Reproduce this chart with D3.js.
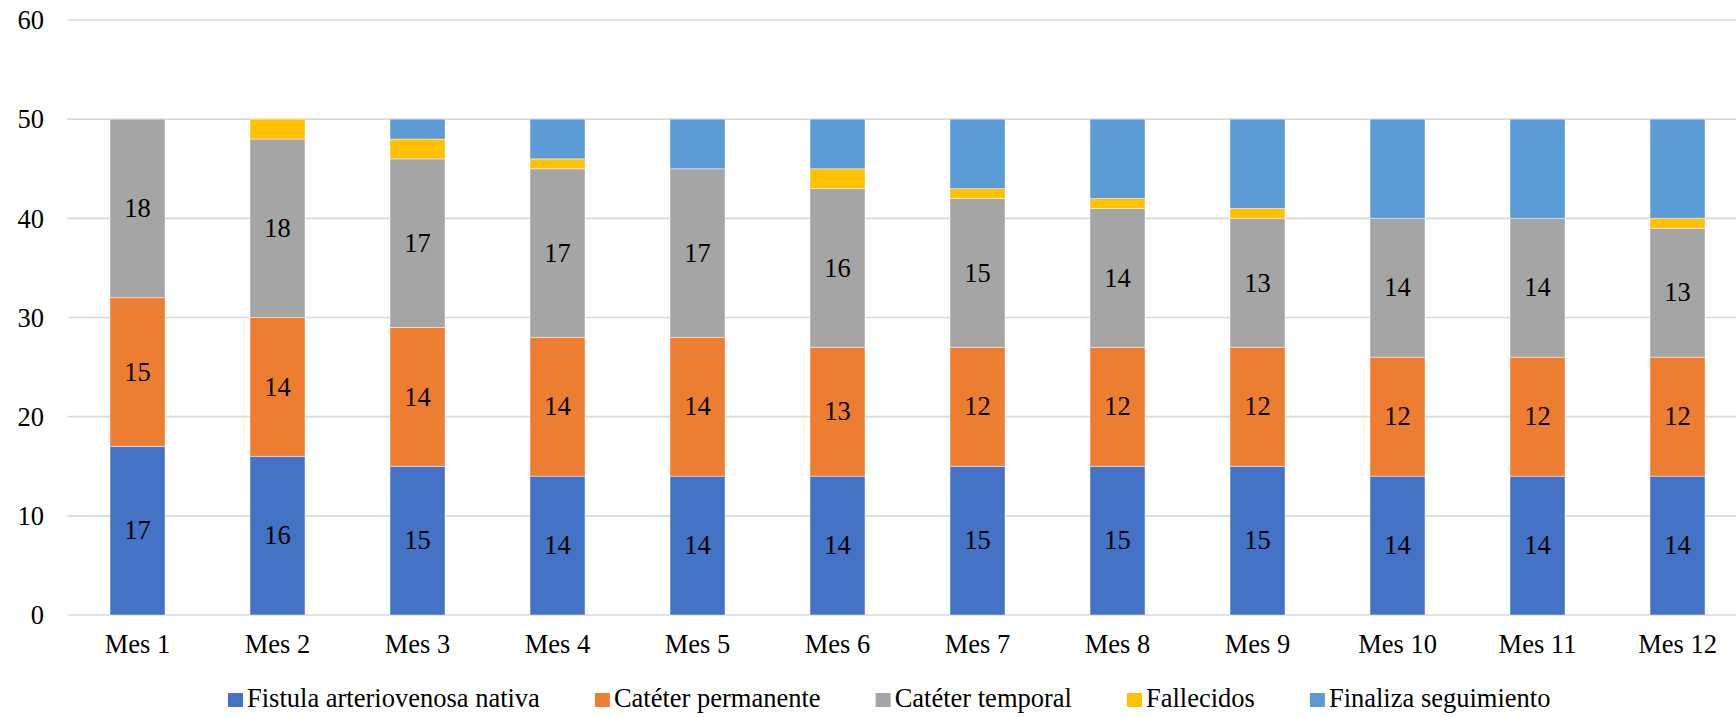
<!DOCTYPE html>
<html>
<head>
<meta charset="utf-8">
<script src="https://cdn.jsdelivr.net/npm/d3@7"></script>
<style>
  html, body { margin: 0; padding: 0; background: #fff; overflow: hidden; }
  svg { display: block; font-family: "Liberation Serif", "Times New Roman", serif; }
</style>
</head>
<body>
<svg id="chart" width="1736" height="717"></svg>
<script>
// Monthly patient counts by vascular access / outcome
const months = ["Mes 1", "Mes 2", "Mes 3", "Mes 4", "Mes 5", "Mes 6",
                "Mes 7", "Mes 8", "Mes 9", "Mes 10", "Mes 11", "Mes 12"];
const fistula     = [17, 16, 15, 14, 14, 14, 15, 15, 15, 14, 14, 14];
const permanente  = [15, 14, 14, 14, 14, 13, 12, 12, 12, 12, 12, 12];
const temporal    = [18, 18, 17, 17, 17, 16, 15, 14, 13, 14, 14, 13];
const fallecidos  = [0, 2, 2, 1, 0, 2, 1, 1, 1, 0, 0, 1];
const finaliza    = [0, 0, 2, 4, 5, 5, 7, 8, 9, 10, 10, 10];
const seriesNames = ["Fistula arteriovenosa nativa", "Catéter permanente",
                     "Catéter temporal", "Fallecidos", "Finaliza seguimiento"];
const yTicks = [0, 10, 20, 30, 40, 50, 60];

const seriesValues = [fistula, permanente, temporal, fallecidos, finaliza];
const colors = ["#4472C4", "#ED7D31", "#A5A5A5", "#FFC000", "#5B9BD5"];
const labelled = [true, true, true, false, false];

const rows = months.map((m, i) => {
  const r = { month: m };
  seriesNames.forEach((s, k) => { r[s] = seriesValues[k][i]; });
  return r;
});

const svg = d3.select("#chart");
const fontFamily = "Liberation Serif";
const fontSize = 26.5;

const x = d3.scaleBand().domain(months).range([67.5, 1747.5]).paddingInner(0.607).paddingOuter(0.3035);
const y = d3.scaleLinear().domain([0, 60]).range([615, 20]);

// Gridlines
svg.append("g")
  .selectAll("line")
  .data(yTicks)
  .join("line")
  .attr("x1", 67.5).attr("x2", 1747.5)
  .attr("y1", d => y(d)).attr("y2", d => y(d))
  .attr("stroke", "#D9D9D9")
  .attr("stroke-width", 1.6);

// Y axis labels
const yAxis = d3.axisLeft(y).tickValues(yTicks).tickSize(0).tickPadding(0);
const yg = svg.append("g").attr("transform", "translate(44,0)").call(yAxis);
yg.attr("font-family", fontFamily);
yg.select(".domain").remove();
yg.selectAll("text")
  .attr("font-family", fontFamily)
  .attr("font-size", fontSize)
  .attr("fill", "#000")
  .attr("dy", "0.33em");

// Stacked bars
const stack = d3.stack().keys(seriesNames);
const stacked = stack(rows);

const groups = svg.append("g")
  .selectAll("g")
  .data(stacked)
  .join("g")
  .attr("fill", (d, i) => colors[i]);

groups.selectAll("rect")
  .data(d => d.map(p => ({ p, key: d.key })))
  .join("rect")
  .attr("x", d => x(d.p.data.month))
  .attr("width", x.bandwidth())
  .attr("y", d => y(d.p[1]))
  .attr("height", d => y(d.p[0]) - y(d.p[1]))
  .attr("stroke", "#ffffff")
  .attr("stroke-opacity", 0.45)
  .attr("stroke-width", 1);

// Value labels in the middle of each segment
const labelGroup = svg.append("g").attr("font-family", fontFamily);
stacked.forEach((layer, k) => {
  if (!labelled[k]) return;
  labelGroup.selectAll(null)
    .data(layer)
    .join("text")
    .attr("x", d => x(d.data.month) + x.bandwidth() / 2)
    .attr("y", d => y((d[0] + d[1]) / 2))
    .attr("dy", "0.33em")
    .attr("text-anchor", "middle")
    .attr("font-family", fontFamily)
    .attr("font-size", fontSize)
    .attr("fill", "#000")
    .text(d => d[1] - d[0]);
});

// X axis labels
const xAxis = d3.axisBottom(x).tickSize(0).tickPadding(0);
const xg = svg.append("g").attr("transform", "translate(0,653)").call(xAxis);
xg.attr("font-family", fontFamily);
xg.select(".domain").remove();
xg.selectAll("text")
  .attr("font-family", fontFamily)
  .attr("font-size", fontSize)
  .attr("fill", "#000")
  .attr("dy", 0)
  .attr("y", 0);

// Legend
const legend = svg.append("g").attr("transform", "translate(228,0)");
let lx = 0;
seriesNames.forEach((name, i) => {
  const g = legend.append("g").attr("transform", `translate(${lx},0)`);
  g.append("rect")
    .attr("x", 0).attr("y", 693)
    .attr("width", 15).attr("height", 14)
    .attr("fill", colors[i]);
  const t = g.append("text")
    .attr("x", 19).attr("y", 707)
    .attr("font-family", fontFamily)
    .attr("font-size", fontSize)
    .attr("fill", "#000")
    .text(name);
  lx += 19 + t.node().getComputedTextLength() + 55;
});
</script>
</body>
</html>
